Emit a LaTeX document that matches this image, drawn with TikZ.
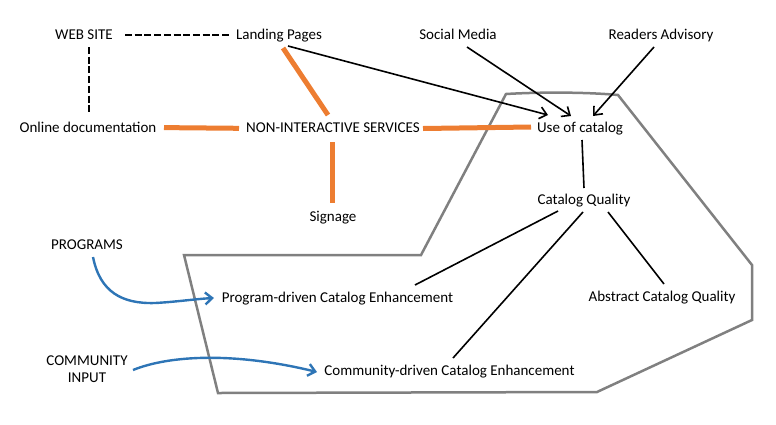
\documentclass[tikz,border=0pt]{standalone}
\usepackage{fontspec}
\setmainfont{Carlito}
\usetikzlibrary{arrows.meta}
\definecolor{orng}{HTML}{ED7D31}
\definecolor{blu}{HTML}{2E75B6}
\definecolor{gry}{HTML}{808080}
\begin{document}
\begin{tikzpicture}[x=1pt,y=-1pt,
  lbl/.style={inner sep=0pt, font=\fontsize{15}{17}\selectfont},
  txt/.style={lbl, text height=9.6pt, text depth=0pt},
  dashln/.style={line width=2.6pt, dash pattern=on 7pt off 2.7pt},
  orln/.style={orng, line width=5pt},
  blk/.style={black, line width=1.6pt},
  blkarr/.style={blk, -{Straight Barb[length=7pt,width=12pt,line width=1.6pt]}},
  bluarr/.style={blu, line width=2.4pt, -{Straight Barb[length=7pt,width=12pt,line width=2.4pt]}},
  region/.style={gry, line width=2.5pt, line join=miter}
]
\useasboundingbox (0,0) rectangle (776,424);

% region outline
\draw[region] (184,255) -- (421,255) -- (506,94)
  .. controls (540,92) and (585,92) .. (618,95)
  -- (752,265) -- (752,320) -- (597,392) -- (218,393) -- cycle;

% nodes
\node[txt] (web) at (84,35) {WEB SITE};
\node[txt] (lp) at (279,35) {Landing Pages};
\node[txt] (online) at (88,128) {Online documentation};
\node[txt] (nis) at (333,128) {NON-INTERACTIVE SERVICES};
\node[txt] (sig) at (333,217) {Signage};
\node[txt] (sm) at (458,35) {Social Media};
\node[txt] (ra) at (661,35) {Readers Advisory};
\node[txt] (use) at (580,128) {Use of catalog};
\node[txt] (cq) at (584,200) {Catalog Quality};
\node[txt] (prog) at (87,245) {PROGRAMS};
\node[lbl, align=center] (comm) at (87,369.5) {COMMUNITY\\INPUT};
\node[txt] (pce) at (337.5,298) {Program-driven Catalog Enhancement};
\node[txt] (ace) at (662,297) {Abstract Catalog Quality};
\node[txt] (cce) at (449.5,371) {Community-driven Catalog Enhancement};

% dashed links
\draw[dashln] ([shift={(41,0)}]web.center) -- ([shift={(-48,0)}]lp.center);
\draw[dashln] ([shift={(5,12)}]web.center) -- ([shift={(1,-14)}]online.center);

% orange links
\draw[orln] ([shift={(76,-0.4)}]online.center) -- ([shift={(-94,0.3)}]nis.center);
\draw[orln] ([shift={(4,13)}]lp.center) -- ([shift={(-5,-13)}]nis.center);
\draw[orln] ([shift={(-1,14)}]nis.center) -- ([shift={(-1,-14)}]sig.center);
\draw[orln] ([shift={(90,0.5)}]nis.center) -- ([shift={(-49,-1)}]use.center);

% black arrows
\draw[blkarr] ([shift={(9,11)}]lp.center) -- ([shift={(-32,-13)}]use.center);
\draw[blkarr] ([shift={(9,12)}]sm.center) -- ([shift={(-9,-12)}]use.center);
\draw[blkarr] ([shift={(-7,12)}]ra.center) -- ([shift={(13,-12)}]use.center);

% black lines
\draw[blk] ([shift={(2,12)}]use.center) -- ([shift={(0,-12)}]cq.center);
\draw[blk] ([shift={(-26,11)}]cq.center) -- ([shift={(77.5,-13)}]pce.center);
\draw[blk] ([shift={(-1,12)}]cq.center) -- ([shift={(3.5,-13)}]cce.center);
\draw[blk] ([shift={(24,12)}]cq.center) -- ([shift={(2,-13)}]ace.center);

% blue arrows
\draw[bluarr] ([shift={(6,12)}]prog.center)
  .. controls (100,292) and (122,304) .. (155,303)
  .. controls (175,302) and (195,299) .. ([shift={(-123.5,0)}]pce.center);
\draw[bluarr] ([shift={(46,0.5)}]comm.center)
  .. controls (170,355) and (235,352) .. ([shift={(-132.5,1)}]cce.center);
\end{tikzpicture}
\end{document}
